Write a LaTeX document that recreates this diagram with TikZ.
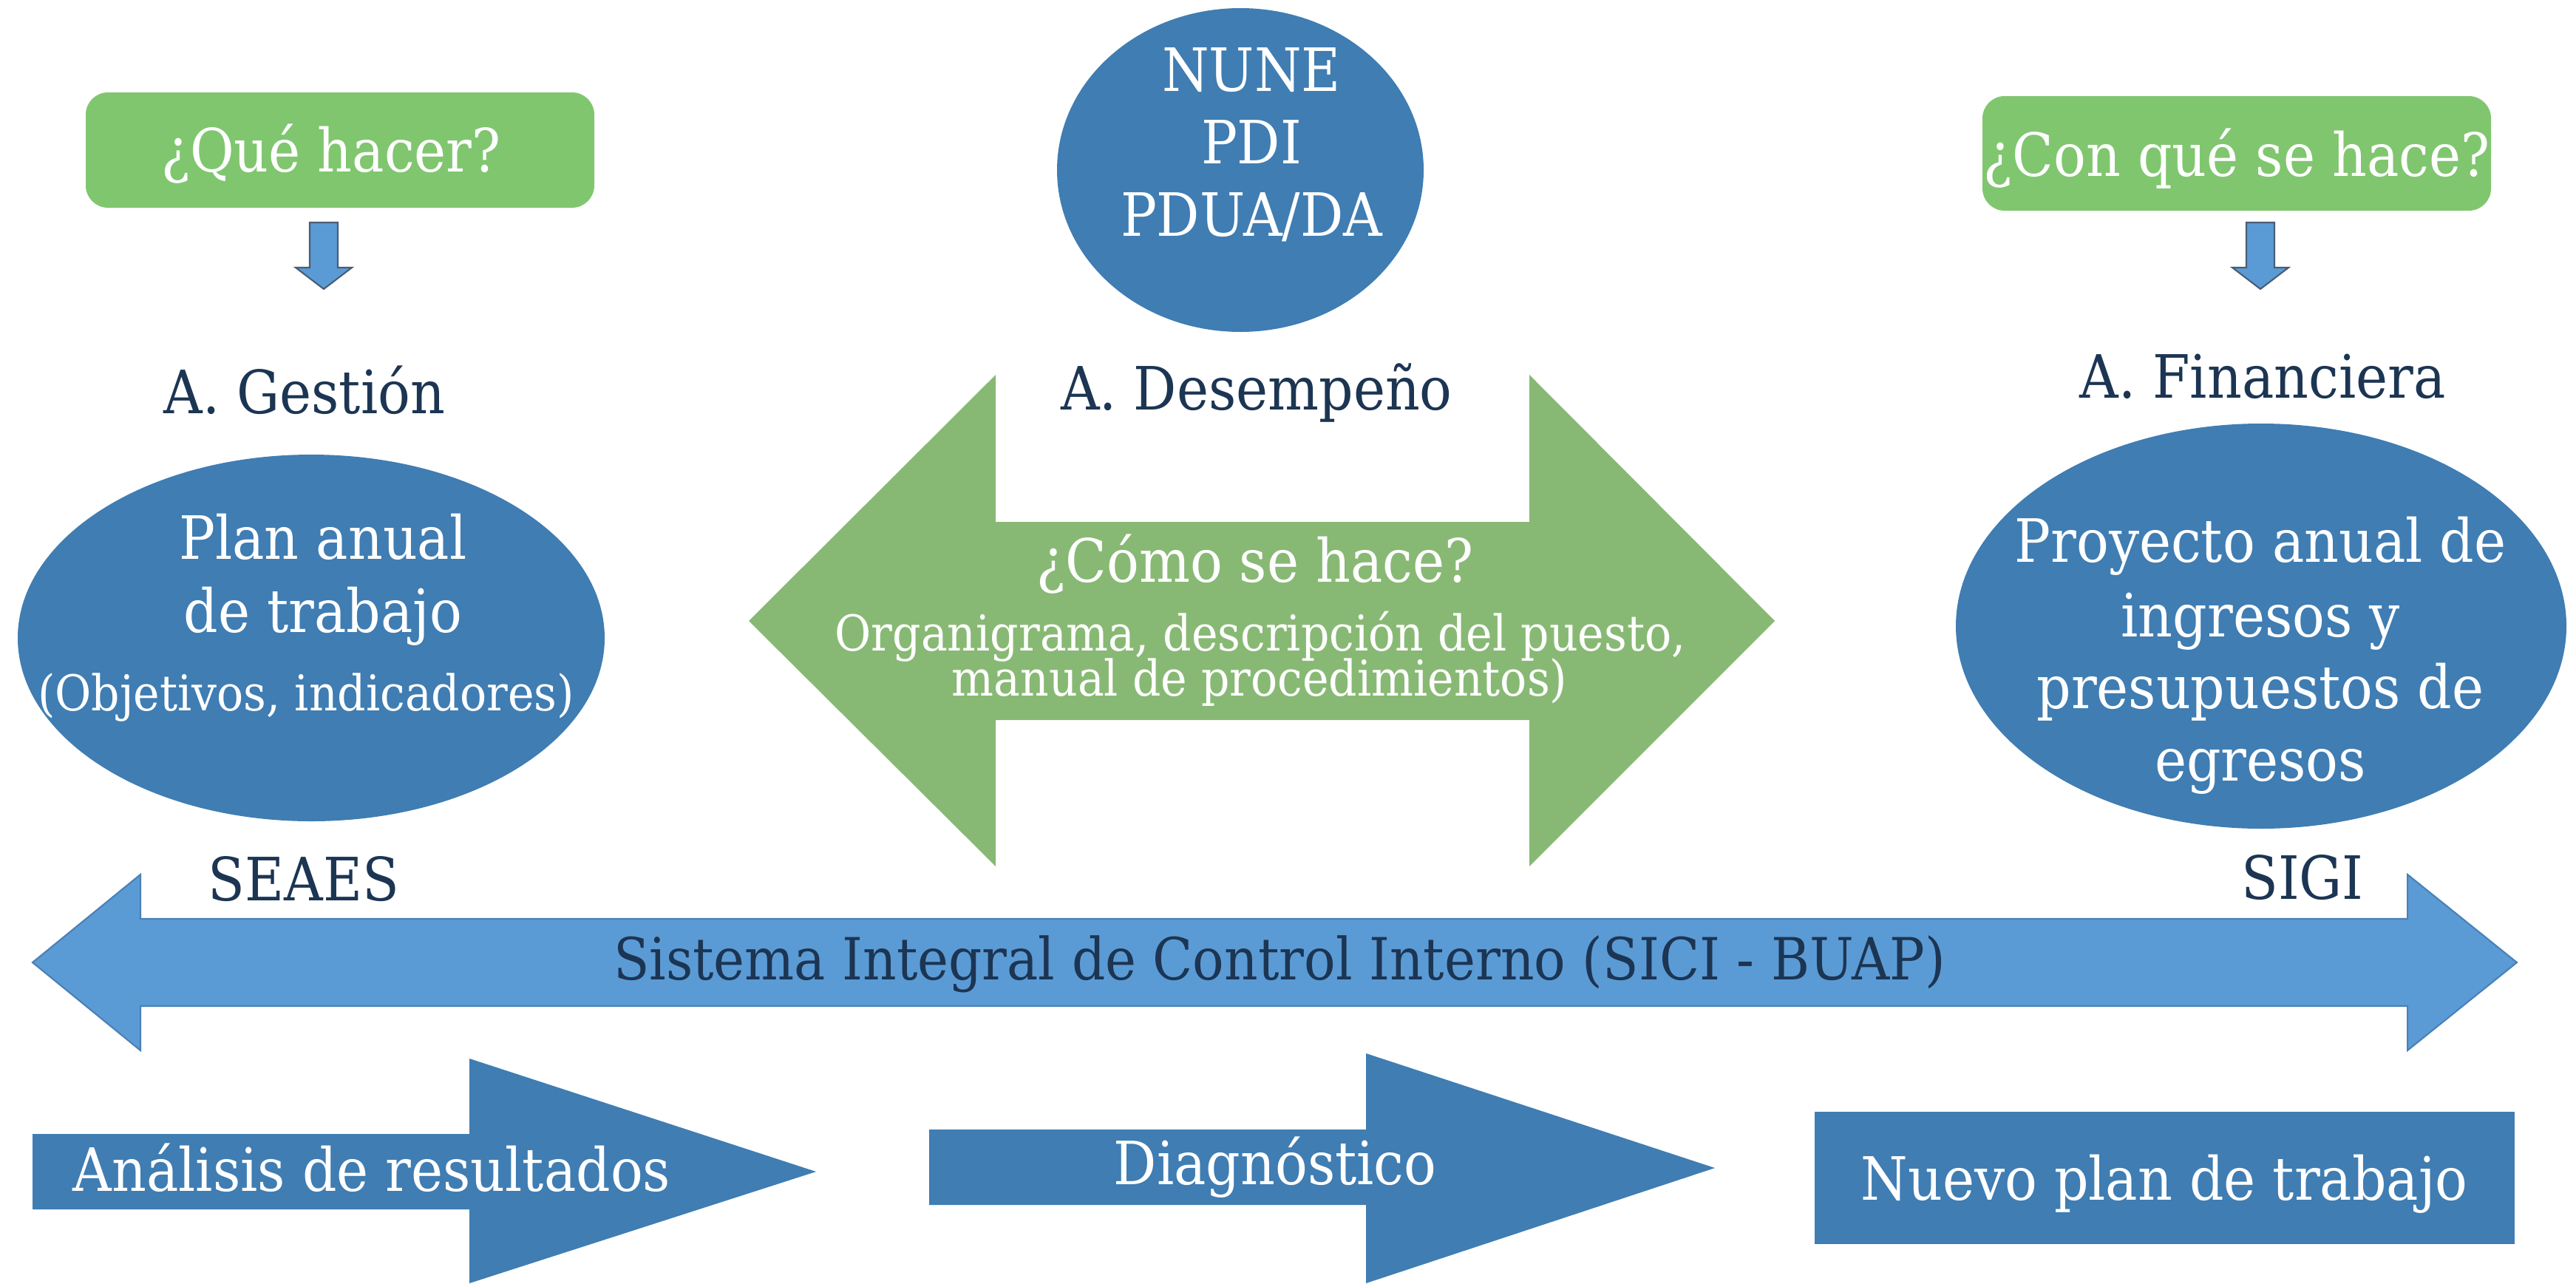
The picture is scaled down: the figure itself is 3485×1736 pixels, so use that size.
\documentclass[tikz,border=0pt]{standalone}
\usepackage{fontspec}
\setmainfont{DejaVu Serif Condensed}
\usepackage{xcolor}
\usepackage{tikz}

\definecolor{azul}{HTML}{3F7DB3}
\definecolor{azulclaro}{HTML}{5B9BD5}
\definecolor{bordeazul}{HTML}{4A80B5}
\definecolor{verdecaja}{HTML}{80C66F}
\definecolor{verdeflecha}{HTML}{88B974}
\definecolor{marino}{HTML}{1C3553}

\tikzset{
  grande/.style={font=\fontsize{23}{28}\selectfont, inner sep=0pt, anchor=base},
  chica/.style={font=\fontsize{19}{22}\selectfont, inner sep=0pt, anchor=base},
  blanco/.style={grande, text=white},
  oscuro/.style={grande, text=marino},
  flechita/.style={fill=azulclaro, draw=marino!80, line width=0.6pt, line join=miter},
}

\begin{document}
\begin{tikzpicture}[x=0.1mm, y=-0.1mm]
  \useasboundingbox (0,0) rectangle (3485,1736);

  % preguntas
  \fill[verdecaja, rounded corners=3mm] (116,125) rectangle (804,281);
  \node[blanco] (quehacer) at (448,232) {¿Qué hacer?};
  \fill[verdecaja, rounded corners=3mm] (2682,130) rectangle (3370,285);
  \node[blanco] (conque) at (3026,238) {¿Con qué se hace?};

  \foreach \x in {438,3058}
    \draw[flechita] (\x-19,301) -- (\x+19,301) -- (\x+19,362) -- (\x+38,362)
      -- (\x,391) -- (\x-38,362) -- (\x-19,362) -- cycle;

  % areas
  \node[oscuro] (gestion) at (412,559) {A. Gestión};
  \node[oscuro] (desempeno) at (1700,554) {A. Desempeño};
  \node[oscuro] (financiera) at (3061,538) {A. Financiera};

  \fill[azul] (1678,230) ellipse [x radius=248, y radius=219];
  \node[blanco] (nune) at (1693,123) {NUNE};
  \node[blanco] (pdi) at (1693,221) {PDI};
  \node[blanco] (pdua) at (1693,319) {PDUA/DA};

  \fill[azul] (421,863) ellipse [x radius=397, y radius=248];
  \node[blanco] (plan1) at (437,756) {Plan anual};
  \node[blanco] (plan2) at (437,855) {de trabajo};
  \node[chica, text=white] (objetivos) at (414,961) {(Objetivos, indicadores)};

  \fill[azul] (3059,847) ellipse [x radius=413, y radius=274];
  \node[blanco] (proy1) at (3058,760) {Proyecto anual de};
  \node[blanco] (proy2) at (3058,861) {ingresos y};
  \node[blanco] (proy3) at (3058,958) {presupuestos de};
  \node[blanco] (proy4) at (3058,1056) {egresos};

  % como se hace
  \fill[verdeflecha] (1013,840) -- (1347,507) -- (1347,706) -- (2069,706) -- (2069,507)
    -- (2401,840) -- (2069,1172) -- (2069,974) -- (1347,974) -- (1347,1172) -- cycle;
  \node[blanco] (como) at (1698,787) {¿Cómo se hace?};
  \node[chica, text=white] (organi) at (1705,880) {Organigrama, descripción del puesto,};
  \node[chica, text=white] (manual) at (1704,941) {manual de procedimientos)};

  % sistema
  \node[oscuro] (seaes) at (411,1218) {SEAES};
  \node[oscuro] (sigi) at (3115,1216) {SIGI};
  \filldraw[fill=azulclaro, draw=bordeazul, line width=0.6pt]
    (44,1302) -- (190,1183) -- (190,1243) -- (3257,1243) -- (3257,1183) -- (3405,1302)
    -- (3257,1421) -- (3257,1361) -- (190,1361) -- (190,1421) -- cycle;
  \node[oscuro, font=\fontsize{22.4}{26}\selectfont] (sici) at (1731,1325)
    {Sistema Integral de Control Interno (SICI - BUAP)};

  % abajo
  \fill[azul] (44,1534) -- (635,1534) -- (635,1432) -- (1104,1585) -- (635,1736)
    -- (635,1636) -- (44,1636) -- cycle;
  \node[blanco] (analisis) at (503,1611) {Análisis de resultados};
  \fill[azul] (1257,1528) -- (1848,1528) -- (1848,1425) -- (2320,1580) -- (1848,1736)
    -- (1848,1630) -- (1257,1630) -- cycle;
  \node[blanco] (diag) at (1725,1602) {Diagnóstico};
  \fill[azul] (2455,1504) rectangle (3402,1683);
  \node[blanco] (nuevo) at (2928,1623) {Nuevo plan de trabajo};
\end{tikzpicture}
\end{document}
